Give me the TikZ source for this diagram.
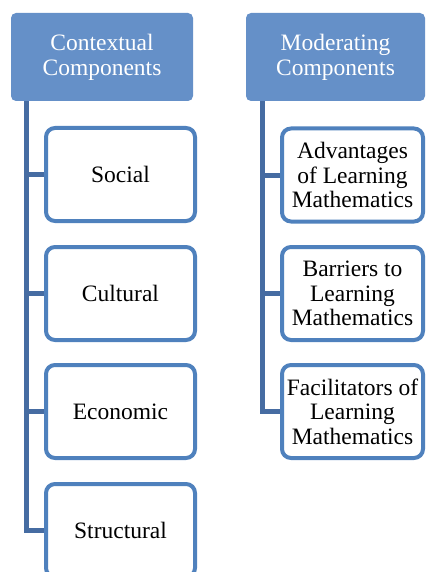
\documentclass[tikz,border=0pt]{standalone}
\usepackage{fontspec}
\setmainfont{Liberation Serif}
\usepackage{xcolor}
\usepackage{tikz}

\definecolor{headblue}{RGB}{101,144,200}
\definecolor{boxblue}{RGB}{79,129,189}
\definecolor{lineblue}{RGB}{70,108,162}

\begin{document}
\begin{tikzpicture}[x=1pt,y=-1pt,
    head/.style={fill=headblue, text=white, rounded corners=5pt, align=center,
        minimum width=#1, minimum height=88pt, inner sep=0pt,
        font=\fontsize{23.5}{25}\selectfont},
    item/.style={draw=boxblue, line width=4pt, fill=white, rounded corners=9pt,
        align=center, minimum width=#1, minimum height=93pt, inner sep=0pt,
        font=\fontsize{23.5}{24.5}\selectfont},
    conn/.style={draw=lineblue, line width=5pt}]
                \useasboundingbox (0,0) rectangle (426,572);

                % Intestazioni
                \node[head=182pt] (ctx) at (102,57) {Contextual\\Components};
                \node[head=179pt] (mod) at (335.5,57) {Moderating\\Components};

                % Colonna sinistra
                \node[item=149pt] (soc) at (120.5,174.5) {Social};
                \node[item=149pt] (cul) at (120.5,293.5) {Cultural};
                \node[item=149pt] (eco) at (120.5,411.5) {Economic};
                \node[item=149pt] (str) at (120.5,530.5) {Structural};

                % Colonna destra
                \node[item=141pt] (adv) at (352.5,175) {Advantages\\of Learning\\Mathematics};
                \node[item=141pt] (bar) at (352.5,293.5) {Barriers to\\Learning\\Mathematics};
                \node[item=141pt] (fac) at (352.5,411.5) {Facilitators of\\Learning\\Mathematics};

                % Collegamenti
                \foreach \b in {soc,cul,eco,str}
                    \draw[conn] ([xshift=15.5pt]ctx.south west) |- (\b.west);
                \foreach \b in {adv,bar,fac}
                    \draw[conn] ([xshift=17pt]mod.south west) |- (\b.west);

        \end{tikzpicture}
\end{document}
